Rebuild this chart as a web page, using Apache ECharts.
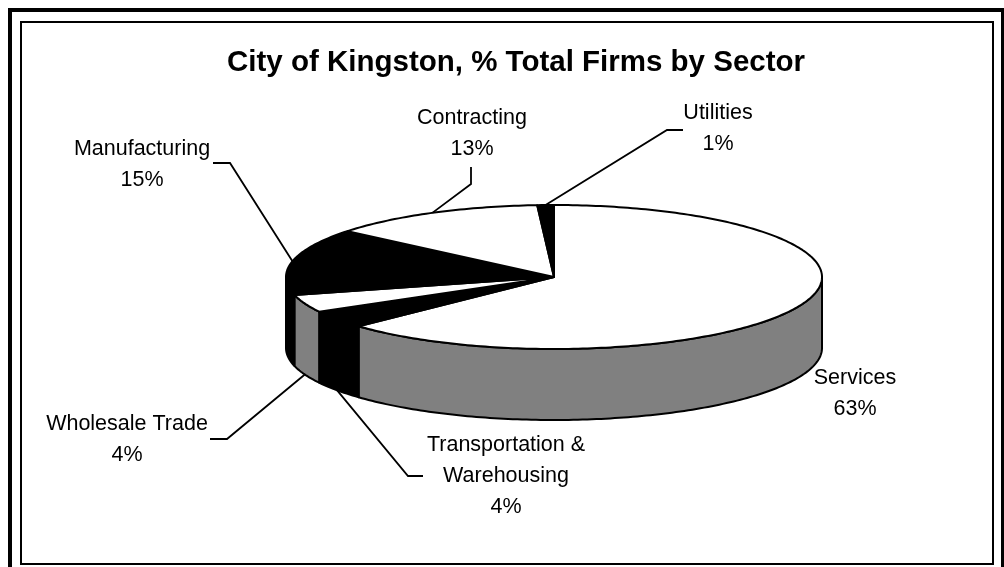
<!DOCTYPE html>
<html>
<head>
<meta charset="utf-8">
<title>City of Kingston, % Total Firms by Sector</title>
<script src="https://cdn.jsdelivr.net/npm/echarts@6/dist/echarts.min.js"></script>
<style>
  html, body { margin: 0; padding: 0; background: #fff; }
  #chart { width: 1004px; height: 567px; }
</style>
</head>
<body>
<div id="chart"></div>
<script>
// sectors, clockwise from 12 o'clock
var sectors = ['Services', 'Transportation &\nWarehousing', 'Wholesale Trade', 'Manufacturing', 'Contracting', 'Utilities'];
var shares = [63, 4, 4, 15, 13, 1];
var topColors = ['#ffffff', '#000000', '#ffffff', '#000000', '#ffffff', '#000000'];
var sideColors = ['#808080', '#000000', '#808080', '#000000', '#808080', '#000000'];

// where each label sits, plus the leader elbow (pixels)
var labelLayout = [
  { x: 855, y: 394, line: null },
  { x: 506, y: 476, line: [[408, 476], [423, 476]] },
  { x: 127, y: 440, line: [[227, 439], [210, 439]] },
  { x: 142, y: 165, line: [[230, 163], [213, 163]] },
  { x: 472, y: 134, line: [[471, 184], [471, 167]] },
  { x: 718, y: 129, line: [[667, 130], [683, 130]] }
];

// the tilted disc
var pie = { cx: 554, cy: 277, rx: 268, ry: 72, depth: 71 };
var FONT = '"Liberation Sans", Arial, sans-serif';
var RAD = Math.PI / 180;

var total = shares.reduce(function (s, v) { return s + v; }, 0);
var slices = [];
var acc = 0;
shares.forEach(function (v) {
  var a = acc / total * 360;
  acc += v;
  slices.push({ a: a, b: acc / total * 360 });
});

function pt(deg, dy) {
  return [pie.cx + pie.rx * Math.sin(deg * RAD), pie.cy - pie.ry * Math.cos(deg * RAD) + (dy || 0)];
}

function arc(a, b, dy) {
  var n = Math.max(2, Math.ceil(Math.abs(b - a)));
  var out = [];
  for (var k = 0; k <= n; k++) {
    out.push(pt(a + (b - a) * k / n, dy));
  }
  return out;
}

var chart = echarts.init(document.getElementById('chart'));

var option = {
  animation: false,
  backgroundColor: '#fff',
  title: {
    text: 'City of Kingston, % Total Firms by Sector',
    left: 511,
    top: 42,
    textAlign: 'center',
    textStyle: { fontFamily: FONT, fontSize: 29.5, fontWeight: 'bold', color: '#000', lineHeight: 32 }
  },
  graphic: [
    { type: 'rect', shape: { x: 10, y: 10, width: 993, height: 600 }, style: { fill: null, stroke: '#000', lineWidth: 4 } },
    { type: 'rect', shape: { x: 21, y: 22, width: 972, height: 542 }, style: { fill: null, stroke: '#000', lineWidth: 2 } }
  ],
  series: [
    {
      // outer walls, only the front half shows
      type: 'custom',
      coordinateSystem: 'none',
      z: 1,
      silent: true,
      data: shares,
      renderItem: function (params, api) {
        var i = params.dataIndex;
        var lo = Math.max(slices[i].a, 90);
        var hi = Math.min(slices[i].b, 270);
        if (lo >= hi) return { type: 'group', children: [] };
        var pts = arc(lo, hi, 0).concat(arc(hi, lo, pie.depth));
        return {
          type: 'polygon',
          shape: { points: pts },
          style: { fill: sideColors[i], stroke: '#000', lineWidth: 2, lineJoin: 'round' }
        };
      }
    },
    {
      // top faces
      type: 'custom',
      coordinateSystem: 'none',
      z: 2,
      silent: true,
      data: shares,
      renderItem: function (params, api) {
        var i = params.dataIndex;
        var pts = [[pie.cx, pie.cy]].concat(arc(slices[i].a, slices[i].b, 0));
        return {
          type: 'polygon',
          shape: { points: pts },
          style: { fill: topColors[i], stroke: '#000', lineWidth: 2, lineJoin: 'round' }
        };
      }
    },
    {
      // labels with leader lines
      type: 'custom',
      coordinateSystem: 'none',
      z: 3,
      silent: true,
      data: shares,
      renderItem: function (params, api) {
        var i = params.dataIndex;
        var L = labelLayout[i];
        var children = [{
          type: 'text',
          x: L.x,
          y: L.y,
          style: {
            text: sectors[i] + '\n' + shares[i] + '%',
            fill: '#000',
            fontFamily: FONT,
            fontSize: 21.5,
            lineHeight: 31,
            align: 'center',
            verticalAlign: 'middle'
          }
        }];
        if (L.line) {
          var mid = (slices[i].a + slices[i].b) / 2;
          var anchor = pt(mid, Math.cos(mid * RAD) < 0 ? pie.depth : 0);
          children.push({
            type: 'polyline',
            shape: { points: [anchor].concat(L.line) },
            style: { fill: null, stroke: '#000', lineWidth: 1.8 }
          });
        }
        return { type: 'group', children: children };
      }
    }
  ]
};

chart.setOption(option);
window.addEventListener('resize', chart.resize);
</script>
</body>
</html>
